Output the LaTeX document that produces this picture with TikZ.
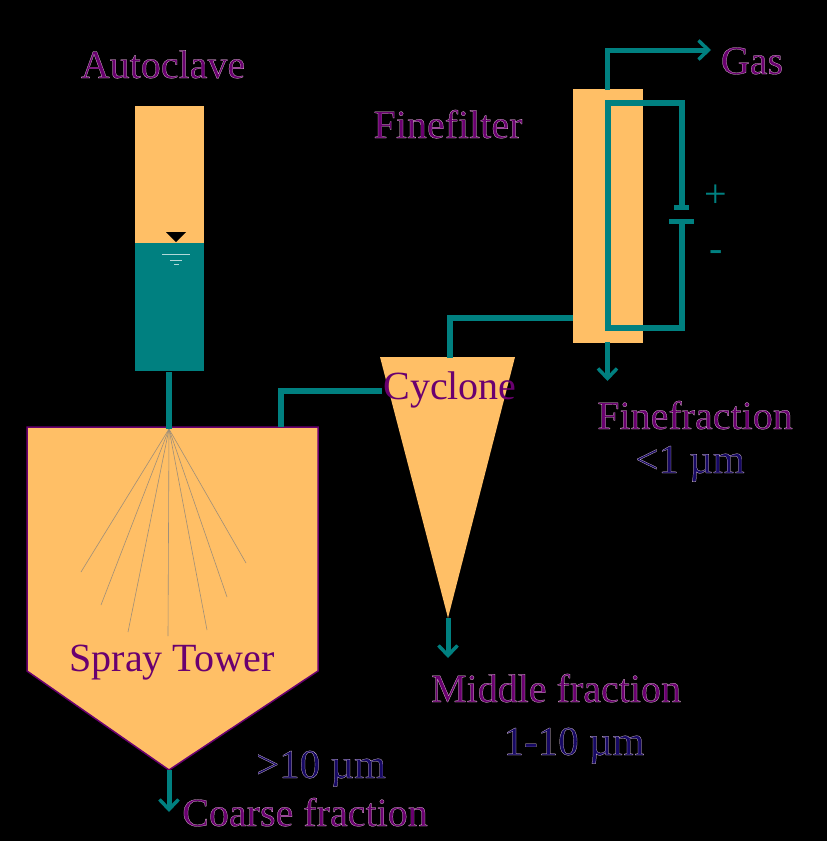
\documentclass[tikz,border=0pt]{standalone}
\usepackage{fontspec}
\setmainfont{Liberation Serif}
\usetikzlibrary{arrows.meta}
\definecolor{tealc}{HTML}{008080}
\definecolor{orangec}{HTML}{FFBF66}
\definecolor{purplec}{HTML}{6A0070}
\definecolor{navyc}{HTML}{160864}
\newcommand{\outl}[1]{\special{pdf:code q 2 Tr 0.22 w 0.95 0.85 0.9 RG}#1\special{pdf:code 0 Tr Q}}
\tikzset{
 pipe/.style={draw=tealc,line width=5.5pt,line join=miter},
 flow/.style={draw=tealc,line width=5pt,-{Straight Barb[length=10pt,width=19pt,line width=3.5pt]}},
 vessel/.style={fill=orangec,draw=none},
 lab/.style={text=purplec,font=\fontsize{40}{40}\selectfont,inner sep=0pt,anchor=base},
 labn/.style={text=navyc,font=\fontsize{41}{41}\selectfont,inner sep=0pt,anchor=base},
 sym/.style={text=tealc,font=\fontsize{40}{40}\selectfont,inner sep=0pt},
 spray/.style={draw=gray!75!orangec,line width=0.6pt}
}
\begin{document}
\begin{tikzpicture}[x=1pt,y=-1pt]
\useasboundingbox[fill=black] (0,0) rectangle (827,841);
% vessels
\fill[orangec] (135,106) rectangle (204,243);
\fill[tealc] (135,243) rectangle (204,371);
\fill[vessel] (573,89) rectangle (643,343);
\path[vessel,draw=purplec,line width=1.5pt] (27,427) -- (318,427) -- (318,671) -- (169,770) -- (27,671) -- cycle;
\path[vessel] (380,357) -- (515,357) -- (448,618) -- cycle;
% coordinates
\coordinate (nozzleTop) at (169,372);
\coordinate (nozzle) at (169,429);
\coordinate (towerOut) at (281,427);
\coordinate (towerUp) at (281,391);
\coordinate (cycIn) at (382,391);
\coordinate (cycOut) at (450,358);
\coordinate (cycUp) at (450,318);
\coordinate (filtIn) at (573,318);
\coordinate (gasA) at (607.5,90);
\coordinate (gasB) at (607.5,50);
\coordinate (gasC) at (711,50);
\coordinate (fineA) at (607.5,342);
\coordinate (fineB) at (607.5,381);
\coordinate (midA) at (448,618);
\coordinate (midB) at (448,658);
\coordinate (coarseA) at (169,770);
\coordinate (coarseB) at (169,812);
\coordinate (elA) at (608,103);
\coordinate (elB) at (682,103);
\coordinate (batTop) at (682,206);
\coordinate (batBot) at (682,221);
\coordinate (elC) at (682,328);
\coordinate (elD) at (608,328);
% spray
\foreach \x/\y in {81/572,101/605,128/632,168/636,207/630,227/597,246/563}
  \draw[spray] (nozzle) -- (\x,\y);
% pipes
\draw[pipe] (nozzleTop) -- (nozzle);
\draw[pipe] (towerOut) -- (towerUp) -- (cycIn);
\draw[pipe] (cycOut) -- (cycUp) -- (filtIn);
\draw[flow] (gasA) -- (gasB) -- (gasC);
\draw[flow] (fineA) -- (fineB);
\draw[flow] (midA) -- (midB);
\draw[flow] (coarseA) -- (coarseB);
\draw[pipe] (batTop) -- (elB) -- (elA) -- (elD) -- (elC) -- (batBot);
\draw[draw=tealc,line width=5pt] (674,207) -- (689,207);
\draw[draw=tealc,line width=5pt] (669,221) -- (694,221);
% level marker
\fill[black] (166,232) -- (186,232) -- (176,242) -- cycle;
\draw[white!70!tealc,line width=0.8pt] (162,254) -- (190,254);
\draw[white!70!tealc,line width=0.8pt] (170,260) -- (182,260);
\draw[white!70!tealc,line width=0.8pt] (174,264) -- (179,264);
% labels
\node[lab] (autoclave) at (163,78) {\outl{Autoclave}};
\node[lab] (finefilter) at (448,138) {\outl{Finefilter}};
\node[lab] (gas) at (752,74) {\outl{Gas}};
\node[sym] (plus) at (716,196) {+};
\node[sym] (minus) at (716,256) {-};
\node[lab] (finefraction) at (695,429) {\outl{Finefraction}};
\node[labn] (fineSize) at (690,473) {\outl{<1 µm}};
\node[lab] (cyclone) at (450,399) {Cyclone};
\node[lab] (spraytower) at (172,671) {Spray Tower};
\node[lab] (middle) at (556,702) {\outl{Middle fraction}};
\node[labn] (midSize) at (574,755) {\outl{1-10 µm}};
\node[labn] (coarseSize) at (321,778) {\outl{>10 µm}};
\node[lab] (coarse) at (305,826) {\outl{Coarse fraction}};
\end{tikzpicture}
\end{document}
